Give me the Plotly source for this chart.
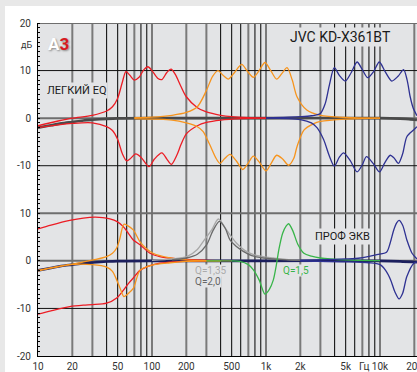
import plotly.graph_objects as go

# ---------------- DATA ----------------
# Upper panel "ЛЕГКИЙ EQ" (dB values)
flat_top_f = [10, 13, 16, 20, 25, 30, 40, 50, 100, 1000, 10000, 15000, 18000, 21100]
flat_top_db = [-2.0, -1.5, -1.1, -0.8, -0.5, -0.35, -0.15, -0.05, 0, 0, 0, -0.1, -0.2, -0.4]

red_boost_f = [10, 15, 20, 30, 40, 45, 50, 55, 59, 64, 70, 77, 85, 92, 100, 112, 122, 135, 147, 160, 180, 200, 250, 300, 400, 500, 700, 1000]
red_boost_db = [-1.6, -0.6, 0.0, 0.6, 1.5, 2.4, 4.2, 7.6, 9.8, 9.0, 8.0, 8.6, 10.2, 10.8, 10.0, 8.4, 8.1, 9.6, 10.3, 9.2, 6.6, 4.5, 2.2, 1.3, 0.6, 0.3, 0.1, 0.0]

red_cut_f = [10, 15, 20, 30, 40, 45, 50, 55, 60, 64, 72, 80, 94, 105, 122, 135, 148, 165, 180, 200, 250, 300, 400, 600, 1000]
red_cut_db = [-2.0, -1.4, -1.1, -1.0, -1.8, -2.6, -4.5, -7.5, -9.0, -8.6, -7.5, -8.2, -10.2, -8.6, -7.3, -8.6, -9.7, -7.8, -5.5, -3.3, -1.6, -0.9, -0.4, -0.1, 0.0]

orange_boost_f = [70, 100, 150, 200, 250, 300, 340, 380, 420, 468, 530, 612, 690, 774, 870, 980, 1100, 1240, 1380, 1530, 1700, 1870, 2280, 3000, 5000, 10000]
orange_boost_db = [0.1, 0.2, 0.6, 1.2, 2.4, 5.8, 8.8, 10.0, 9.0, 8.2, 9.6, 11.3, 9.8, 8.6, 10.0, 11.7, 10.0, 8.2, 9.4, 10.6, 8.0, 4.5, 1.7, 0.6, 0.15, 0.0]

orange_cut_f = [70, 150, 200, 250, 280, 320, 360, 394, 430, 483, 550, 625, 700, 774, 870, 1000, 1110, 1240, 1400, 1580, 1750, 1870, 2150, 2600, 3000, 5000, 10000]
orange_cut_db = [-0.1, -0.4, -1.0, -1.8, -2.8, -5.5, -8.2, -9.5, -8.6, -7.6, -9.0, -10.8, -9.4, -8.0, -9.2, -11.1, -9.5, -7.8, -8.6, -9.9, -8.5, -6.0, -2.5, -1.2, -0.7, -0.2, 0.0]

blue_boost_f = [1000, 2000, 2500, 3000, 3300, 3600, 3970, 4400, 4960, 5600, 6290, 7000, 7800, 8800, 9860, 11200, 12700, 14400, 16100, 17300, 18400, 19500, 21100]
blue_boost_db = [0.05, 0.3, 0.5, 1.0, 3.0, 7.0, 10.6, 9.0, 7.8, 9.6, 11.8, 10.2, 8.5, 9.8, 11.8, 9.6, 7.8, 8.8, 10.2, 8.0, 4.5, 2.2, 0.5]

blue_cut_f = [1000, 2000, 2500, 2800, 3200, 3600, 3970, 4400, 4800, 5500, 6300, 7000, 7600, 8700, 9900, 11000, 12300, 13300, 14500, 15800, 17200, 19700, 21100]
blue_cut_db = [0.0, -0.3, -1.0, -2.0, -4.5, -8.0, -10.1, -8.2, -7.3, -9.0, -11.3, -9.8, -8.1, -9.5, -11.3, -9.4, -7.8, -8.4, -9.5, -7.5, -3.9, -2.5, -1.8]

# Lower panel "ПРОФ ЭКВ" (dB values, own zero)
flat_bot_f = [10, 13, 16, 20, 25, 30, 40, 50, 100, 1000, 10000, 15000, 21100]
flat_bot_db = [-2.0, -1.5, -1.1, -0.8, -0.5, -0.35, -0.15, -0.05, 0, 0, 0, -0.1, -0.3]

red_b_boost_f = [10, 13, 19, 25, 31.6, 37, 42.7, 49, 56, 62, 68.5, 78.5, 96, 117, 154, 200, 300, 500]
red_b_boost_db = [6.7, 7.5, 8.5, 9.0, 9.2, 9.1, 8.8, 8.3, 7.2, 5.8, 4.4, 3.4, 1.6, 0.9, 0.5, 0.3, 0.1, 0.0]

red_b_cut_f = [10, 13, 19, 25, 30, 40, 49, 56, 62, 68.5, 78.5, 96, 117, 154, 200, 300]
red_b_cut_db = [-11.2, -10.5, -9.6, -9.3, -9.2, -8.9, -7.8, -6.2, -4.8, -3.6, -2.0, -1.0, -0.5, -0.2, -0.1, 0.0]

orange_b_boost_f = [10, 20, 30.6, 40, 45, 49, 52, 56.7, 61, 68.5, 78.5, 90, 102, 144, 200, 400]
orange_b_boost_db = [-2.0, -0.7, 0.2, 0.9, 1.6, 2.7, 4.5, 7.7, 7.4, 6.5, 4.0, 2.5, 1.6, 0.6, 0.2, 0.0]

orange_b_cut_f = [10, 19, 30, 40, 45, 49, 53, 56.7, 61, 68.5, 78.5, 100, 144, 200, 400]
orange_b_cut_db = [-2.1, -0.8, -0.8, -1.3, -2.2, -4.0, -6.0, -7.5, -7.0, -5.8, -2.0, -0.9, -0.4, -0.1, 0.0]

gray_q135_f = [100, 150, 202, 250, 282, 334, 382, 450, 552, 650, 778, 1000, 1160, 1500, 2000]
gray_q135_db = [0.1, 0.4, 0.9, 2.4, 4.1, 6.5, 8.8, 6.5, 3.7, 2.2, 1.3, 0.8, 0.6, 0.3, 0.1]

gray_q20_f = [150, 200, 250, 302, 340, 390, 440, 483, 550, 632, 750, 950, 1300, 2000]
gray_q20_db = [0.2, 0.6, 1.4, 3.4, 6.2, 8.3, 6.8, 4.4, 3.0, 2.0, 1.1, 0.6, 0.3, 0.1]

green_f = [300, 500, 590, 700, 775, 870, 980, 1070, 1160, 1230, 1300, 1400, 1500, 1580, 1720, 1900, 2150, 2500, 3000, 5000, 10000]
green_db = [0.0, 0.0, -0.1, -0.8, -1.9, -4.0, -7.0, -6.0, -4.0, -1.0, 2.5, 5.8, 7.3, 7.8, 6.3, 3.5, 1.6, 1.0, 0.6, 0.2, 0.05]

blue_b_boost_f = [2000, 5000, 6700, 9400, 11400, 12300, 13200, 14000, 14700, 15800, 17200, 19100, 21100]
blue_b_boost_db = [0.1, 0.4, 0.6, 1.3, 1.8, 3.8, 6.5, 8.0, 8.5, 7.5, 4.4, 1.6, 0.4]

blue_b_cut_f = [2000, 5000, 8000, 10000, 11200, 12400, 13500, 14700, 15800, 17200, 19800, 21100]
blue_b_cut_db = [-0.05, -0.2, -0.4, -0.8, -2.0, -4.0, -6.5, -8.0, -6.8, -3.3, -0.5, -0.2]

# axis labels
x_tickvals = [10, 20, 50, 100, 200, 500, 1000, 2000, 5000, 10000, 20000]
x_ticktext = ["10", "20", "50", "100", "200", "500", "1k", "2k", "5k", "10k", "20k"]
y_tickvals = [20, 10, 0, -10, -20, -30, -40, -50]
y_ticktext = ["20", "10", "0", "-10", "10", "0", "-10", "-20"]

# ---------------- STYLE ----------------
W, H = 417, 372
ML, MR, MT, MB = 38, 0, 23, 16
PW, PH = W - ML - MR, H - MT - MB
BOTTOM_OFFSET = -30
PLOT_BG = "#e3e4e6"
RED = "#ec1c24"
ORANGE = "#f7941d"
BLUE = "#2e3192"
GREEN = "#39b54a"
FONT = "Roboto, Arial, sans-serif"

def px(p):
    return (p - ML) / PW

def py(p):
    return (H - MB - p) / PH

fig = go.Figure()

# grid lines
gray_x, black_x = [], []
for dec in [10, 100, 1000, 10000]:
    for m in range(1, 10):
        f = m * dec
        if f <= 10 or f > 20000:
            continue
        if m in (1, 2, 3, 7):
            gray_x += [f, f, None]
        else:
            black_x += [f, f, None]

def vy(xs):
    res = []
    for i in range(0, len(xs), 3):
        res += [-50, 20, None]
    return res

fig.add_trace(go.Scatter(x=gray_x, y=vy(gray_x), mode="lines",
                         line=dict(color="#7a7a7a", width=2), hoverinfo="skip", showlegend=False))
fig.add_trace(go.Scatter(x=black_x, y=vy(black_x), mode="lines",
                         line=dict(color="#000000", width=1), hoverinfo="skip", showlegend=False))
hx_gray, hy_gray, hx_black, hy_black = [], [], [], []
for v in [20, 0, -20, -30]:
    hx_gray += [10, 21100, None]; hy_gray += [v, v, None]
for v in [10, -10, -40]:
    hx_black += [10, 21100, None]; hy_black += [v, v, None]
fig.add_trace(go.Scatter(x=hx_gray, y=hy_gray, mode="lines",
                         line=dict(color="#6e6e6e", width=2), hoverinfo="skip", showlegend=False))
fig.add_trace(go.Scatter(x=hx_black, y=hy_black, mode="lines",
                         line=dict(color="#111111", width=1), hoverinfo="skip", showlegend=False))

def curve(f, db, color, width=1.3, offset=0):
    fig.add_trace(go.Scatter(x=f, y=[d + offset for d in db], mode="lines",
                             line=dict(color=color, width=width, shape="spline", smoothing=0.8),
                             hoverinfo="skip", showlegend=False))

# upper panel
curve(flat_top_f, flat_top_db, "#4a4a4a", 2.6)
curve(red_boost_f, red_boost_db, RED)
curve(red_cut_f, red_cut_db, RED)
curve(orange_boost_f, orange_boost_db, ORANGE)
curve(orange_cut_f, orange_cut_db, ORANGE)
curve(blue_boost_f, blue_boost_db, BLUE)
curve(blue_cut_f, blue_cut_db, BLUE)
# lower panel
curve(flat_bot_f, flat_bot_db, "#1c1f5e", 2.6, BOTTOM_OFFSET)
curve(red_b_boost_f, red_b_boost_db, RED, offset=BOTTOM_OFFSET)
curve(red_b_cut_f, red_b_cut_db, RED, offset=BOTTOM_OFFSET)
curve(orange_b_boost_f, orange_b_boost_db, ORANGE, offset=BOTTOM_OFFSET)
curve(orange_b_cut_f, orange_b_cut_db, ORANGE, offset=BOTTOM_OFFSET)
curve(gray_q135_f, gray_q135_db, "#a8a8a8", offset=BOTTOM_OFFSET)
curve(gray_q20_f, gray_q20_db, "#6a6a6a", offset=BOTTOM_OFFSET)
curve(green_f, green_db, GREEN, offset=BOTTOM_OFFSET)
curve(blue_b_boost_f, blue_b_boost_db, BLUE, offset=BOTTOM_OFFSET)
curve(blue_b_cut_f, blue_b_cut_db, BLUE, offset=BOTTOM_OFFSET)

shapes = [
    dict(type="rect", xref="paper", yref="paper", x0=px(0), x1=px(5), y0=py(H), y1=py(0),
         fillcolor="#e8e8e8", line=dict(width=0), layer="below"),
    dict(type="rect", xref="paper", yref="paper", x0=px(0), x1=px(W), y0=py(6), y1=py(0),
         fillcolor="#e8e8e8", line=dict(width=0), layer="below"),
]

def ann(text, x, y, size, color="#1a1a1a", bg=PLOT_BG, xanchor="center", pad=1, shadow=None):
    font = dict(family=FONT, size=size, color=color)
    if shadow:
        font["shadow"] = shadow
    return dict(text=text, xref="paper", yref="paper", x=px(x), y=py(y), showarrow=False,
                xanchor=xanchor, yanchor="middle", font=font, bgcolor=bg, borderpad=pad)

annotations = [
    ann("JVC KD-X361BT", 340, 37, 14),
    ann("ЛЕГКИЙ EQ", 76, 90, 11),
    ann("ПРОФ ЭКВ", 342, 236, 11),
    ann("Q=1,35", 194, 270.5, 10, "#ababab", xanchor="left", pad=0),
    ann("Q=2,0", 194, 281.5, 10, "#666666", xanchor="left", pad=0),
    ann("Q=1,5", 282, 270.5, 10, GREEN, xanchor="left", pad=0),
    ann("<b><span style='color:#ffffff'>A</span><span style='color:#d7191f'>3</span></b>", 58, 44, 17,
        bg="rgba(0,0,0,0)", shadow="1px 1px 2px #8a8a8a"),
    ann("дБ", 26, 45, 9, "#333333", bg="rgba(0,0,0,0)"),
    ann("Гц", 364, 366, 10, "#333333", bg="rgba(0,0,0,0)"),
]

fig.update_layout(
    width=W, height=H,
    margin=dict(l=ML, r=MR, t=MT, b=MB, pad=0, autoexpand=False),
    paper_bgcolor="#ffffff", plot_bgcolor=PLOT_BG,
    showlegend=False,
    shapes=shapes, annotations=annotations,
    font=dict(family=FONT, size=10, color="#333333"),
    xaxis=dict(type="log", range=[1, 1 + PW / 114.0], showgrid=False, zeroline=False,
               showline=True, linecolor="#000000", linewidth=1, ticks="",
               tickmode="array", tickvals=x_tickvals, ticktext=x_ticktext,
               ticklabeloverflow="allow", automargin=False,
               tickfont=dict(family=FONT, size=10, color="#333333"), ticklabelstandoff=1),
    yaxis=dict(range=[-50, 20], showgrid=False, zeroline=False, automargin=False,
               showline=True, linecolor="#000000", linewidth=1, ticks="",
               tickmode="array", tickvals=y_tickvals, ticktext=y_ticktext,
               tickfont=dict(family=FONT, size=10, color="#333333"), ticklabelstandoff=4,
               minor=dict(ticks="inside", ticklen=2, tickcolor="#000000", tickwidth=1,
                          tickmode="linear", tick0=0, dtick=1, showgrid=False)),
)

fig.write_html("out.html")
